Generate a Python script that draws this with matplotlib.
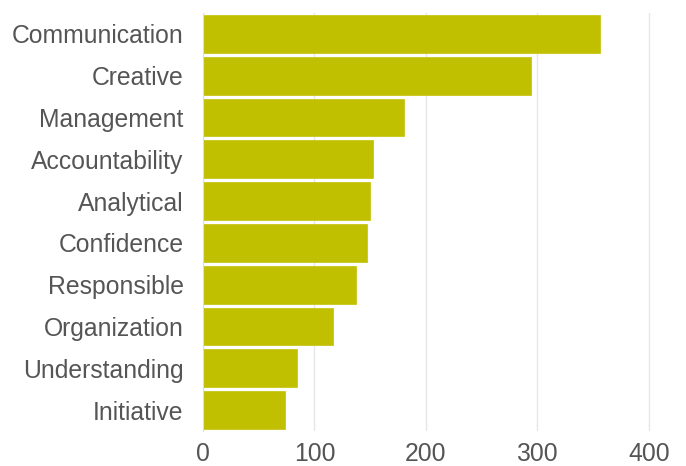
import matplotlib
matplotlib.use("Agg")
import matplotlib.pyplot as plt

skills = ["Communication", "Creative", "Management", "Accountability", "Analytical",
          "Confidence", "Responsible", "Organization", "Understanding", "Initiative"]
counts = [356, 294, 180, 153, 150, 147, 137, 117, 84, 74]
xticks = [0, 100, 200, 300, 400]

plt.rcParams['font.family'] = ['Liberation Sans', 'DejaVu Sans']

fig = plt.figure(figsize=(6.86, 4.66), dpi=100)
ax = fig.add_axes([203 / 686, 1 - 431 / 466, (671 - 203) / 686, (431 - 13) / 466])

pos = list(range(len(skills)))[::-1]
ax.barh(pos, counts, height=0.905, color="#c1c000", edgecolor="#c8c71a", linewidth=0.6, zorder=2)

ax.set_xlim(0, 420)
ax.set_ylim(-0.5, len(skills) - 0.5)
ax.set_yticks(pos)
ax.set_yticklabels(skills)
ax.set_xticks(xticks)
ax.tick_params(axis="both", length=0, labelsize=17.8, labelcolor="#555555")
ax.tick_params(axis="y", pad=14)
ax.tick_params(axis="x", pad=8)

ax.grid(axis="x", color="#e6e6e6", linewidth=1, zorder=0)
for s in ["top", "right", "bottom"]:
    ax.spines[s].set_visible(False)
ax.spines["left"].set_color("#dddddd")
ax.spines["left"].set_zorder(3)

fig.savefig("out.png", dpi=100)
